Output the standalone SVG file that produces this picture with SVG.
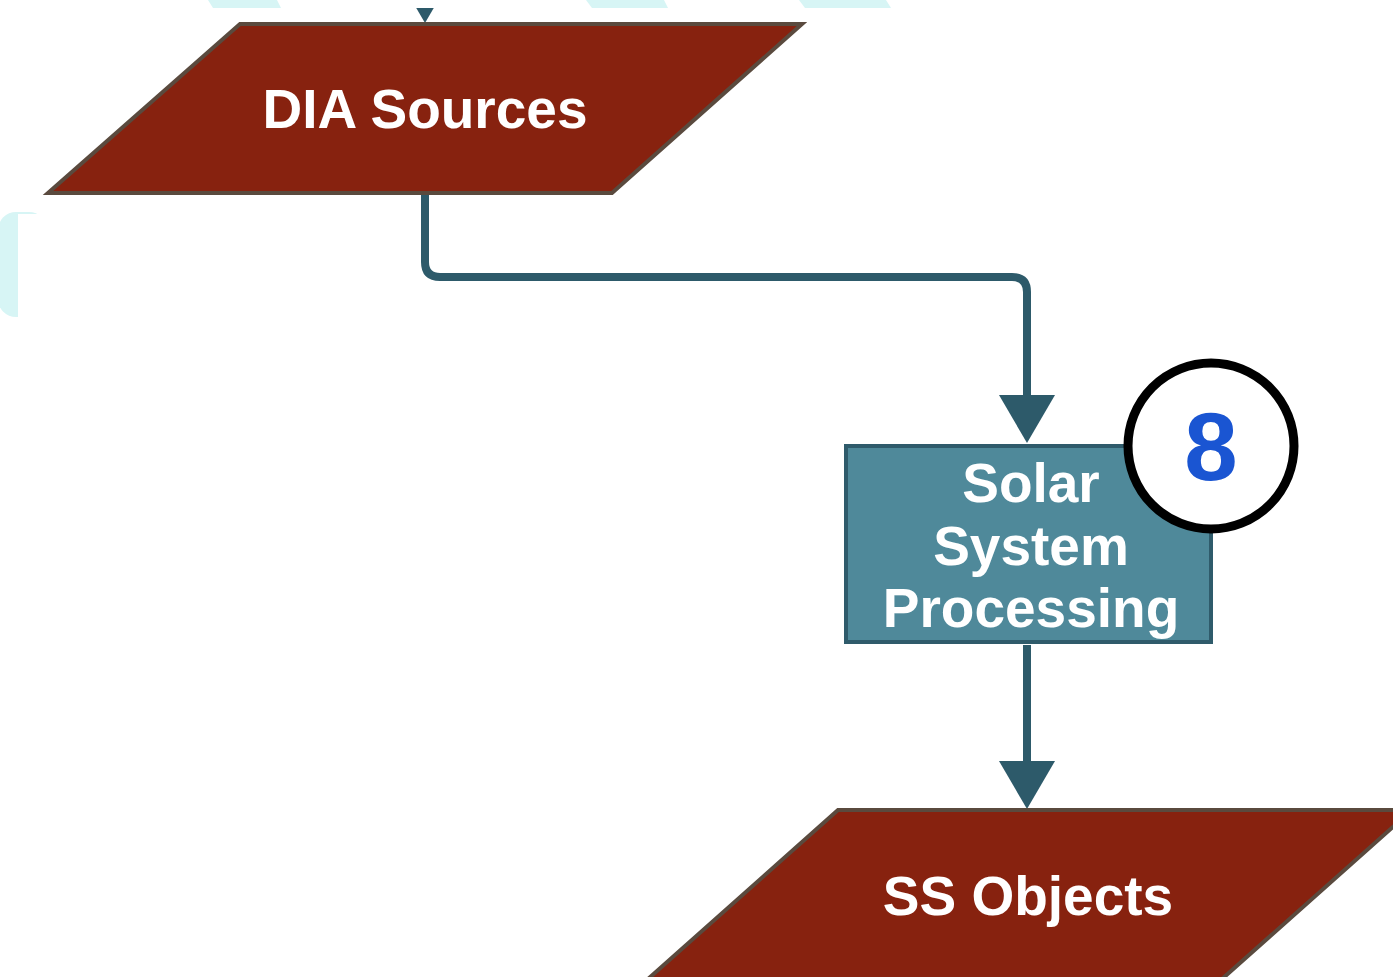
<svg xmlns="http://www.w3.org/2000/svg" width="1393" height="977" viewBox="0 0 1393 977">
  <style>
    .data { fill: #87220f; stroke: #5a4a3e; stroke-width: 4; }
    .proc { fill: #4f899a; stroke: #2f5b6b; stroke-width: 4; }
    .label { fill: #ffffff; font-family: "Liberation Sans", Arial, sans-serif; font-weight: bold; font-size: 55px; text-anchor: middle; }
    .flow { fill: none; stroke: #2d5a6a; stroke-width: 8; stroke-linejoin: round; }
    .bg { fill: #d7f5f5; }
    .badge-ring { fill: #ffffff; stroke: #000000; stroke-width: 9; }
    .badge-num { fill: #1a55d2; font-family: "Liberation Sans", Arial, sans-serif; font-weight: bold; font-size: 96px; text-anchor: middle; }
  </style>
  <defs>
    <!-- arrowhead sits beyond the path end: base at the end point, tip 48px further -->
    <marker id="arrow" viewBox="0 0 12 14" refX="0" refY="7" markerWidth="6" markerHeight="7" markerUnits="strokeWidth" orient="auto" overflow="visible">
      <path d="M0,0 L12,7 L0,14 Z" fill="#2d5a6a"/>
    </marker>
    <clipPath id="below-top-band">
      <rect x="0" y="8" width="1393" height="969"/>
    </clipPath>
  </defs>
  <rect width="1393" height="977" fill="#ffffff"/>

  <!-- faint background shapes -->
  <g id="background">
    <polygon class="bg" points="208,0 277,0 281,8 213,8"/>
    <polygon class="bg" points="586,0 664,0 668,8 592,8"/>
    <polygon class="bg" points="799,0 886,0 891,8 805,8"/>
    <rect class="bg" x="-2" y="212" width="49" height="105" rx="18"/>
    <rect x="18" y="214" width="40" height="120" fill="#ffffff"/>
  </g>

  <!-- connectors -->
  <g id="connectors">
    <path class="flow" d="M425,-60 L425,-25" marker-end="url(#arrow)" clip-path="url(#below-top-band)"/>
    <path class="flow" d="M425,195 L425,262 Q425,277 440,277 L1012,277 Q1027,277 1027,292 L1027,395" marker-end="url(#arrow)"/>
    <path class="flow" d="M1027,645 L1027,761" marker-end="url(#arrow)"/>
  </g>

  <g id="dia-sources">
    <polygon class="data" points="240,24 802,24 612,193 48,193"/>
    <text class="label" x="425" y="128">DIA Sources</text>
  </g>

  <g id="solar-system-processing">
    <rect class="proc" x="846" y="446" width="365" height="196"/>
    <text class="label" x="1031" y="502">Solar</text>
    <text class="label" x="1031" y="565">System</text>
    <text class="label" x="1031" y="627">Processing</text>
  </g>

  <g id="step-badge">
    <circle class="badge-ring" cx="1211" cy="446" r="83"/>
    <text class="badge-num" x="1211" y="480">8</text>
  </g>

  <g id="ss-objects">
    <polygon class="data" points="838,810 1412,810 1222,979 648,979"/>
    <text class="label" x="1028" y="915">SS Objects</text>
  </g>
</svg>
